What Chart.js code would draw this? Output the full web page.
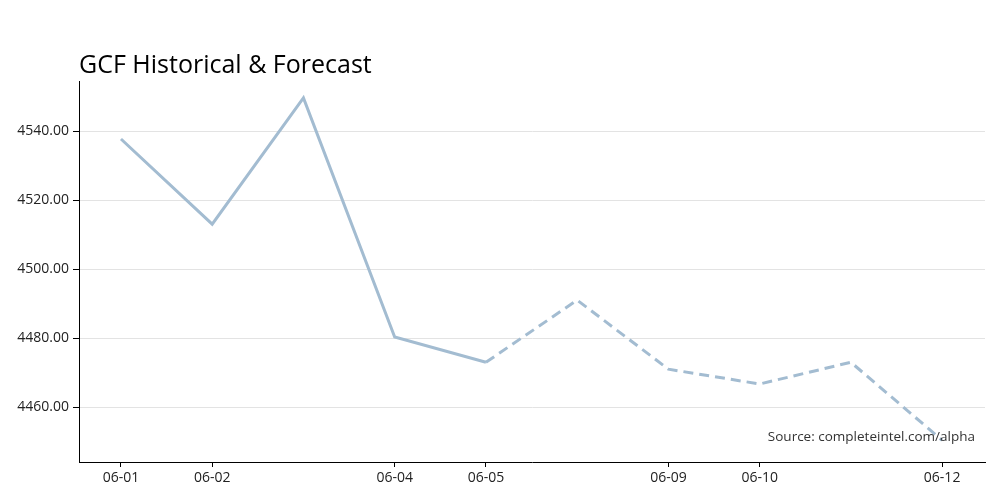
<!DOCTYPE html>
<html>
<head>
<meta charset="utf-8">
<script src="https://cdn.jsdelivr.net/npm/chart.js@4"></script>
<style>
    html, body { margin: 0; padding: 0; background: #fff; }
    #wrapper { width: 1000px; height: 500px; }
</style>
</head>
<body>
<div id="wrapper"><canvas id="chart"></canvas></div>
<script>
// dates in the series, and the ones that get a label on the axis
const dates = ['06-01', '06-02', '06-03', '06-04', '06-05', '06-06', '06-09', '06-10', '06-11', '06-12'];
const tickLabels = ['06-01', '06-02', '', '06-04', '06-05', '', '06-09', '06-10', '', '06-12'];
const gcfValues = [4537.7, 4513.0, 4549.6, 4480.3, 4473.0, 4491.0, 4471.0, 4466.7, 4473.0, 4450.4];
const yTicks = [4460, 4480, 4500, 4520, 4540];
const forecastStart = 4; // from 06-05 onwards the line is dashed

const fontFamily = "'Open Sans', sans-serif";

const sourceNote = {
    id: 'sourceNote',
    afterDraw(chart) {
        const ctx = chart.ctx;
        const area = chart.chartArea;
        ctx.save();
        ctx.font = '13.5px ' + fontFamily;
        ctx.fillStyle = '#333';
        ctx.textAlign = 'right';
        ctx.textBaseline = 'alphabetic';
        ctx.fillText('Source: completeintel.com/alpha', area.right - 10, area.bottom - 21);
        ctx.restore();
    }
};

document.addEventListener('DOMContentLoaded', () => {
    const ctx = document.getElementById('chart').getContext('2d');
    new Chart(ctx, {
        type: 'line',
        data: {
            datasets: [{
                label: 'GCF',
                data: gcfValues.map((v, i) => ({ x: i, y: v })),
                borderColor: '#a3bcd1',
                borderWidth: 3,
                pointRadius: 0,
                tension: 0,
                segment: {
                    borderDash: c => c.p0DataIndex >= forecastStart ? [10, 6] : undefined
                }
            }]
        },
        options: {
            responsive: true,
            maintainAspectRatio: false,
            animation: false,
            layout: { padding: { top: 51, right: 15, left: 0, bottom: 0 } },
            plugins: {
                legend: { display: false },
                tooltip: { enabled: false },
                title: {
                    display: true,
                    text: 'GCF Historical & Forecast',
                    align: 'start',
                    fullSize: false,
                    color: '#000',
                    font: { family: fontFamily, size: 25, weight: 'normal' },
                    padding: { top: 0, bottom: 0 }
                }
            },
            scales: {
                x: {
                    type: 'linear',
                    min: -0.46,
                    max: 9.47,
                    afterBuildTicks: scale => {
                        scale.ticks = tickLabels
                            .map((t, i) => ({ value: i, label: t }))
                            .filter(t => t.label !== '');
                    },
                    afterFit: scale => { scale.height = 38; },
                    ticks: {
                        autoSkip: false,
                        maxRotation: 0,
                        color: '#222',
                        font: { family: fontFamily, size: 14 },
                        padding: 3,
                        callback: v => tickLabels[v]
                    },
                    grid: {
                        drawOnChartArea: false,
                        tickColor: '#000',
                        tickLength: 5
                    },
                    border: { color: '#000', width: 1 }
                },
                y: {
                    min: 4444.1,
                    max: 4554.5,
                    afterBuildTicks: scale => {
                        scale.ticks = yTicks.map(v => ({ value: v }));
                    },
                    afterFit: scale => { scale.width = 79; },
                    ticks: {
                        color: '#222',
                        font: { family: fontFamily, size: 14 },
                        padding: 4,
                        callback: v => Number(v).toFixed(2)
                    },
                    grid: {
                        color: '#e3e3e3',
                        tickColor: '#000',
                        tickLength: 6
                    },
                    border: { color: '#000', width: 1 }
                }
            }
        },
        plugins: [sourceNote]
    });
});
</script>
</body>
</html>
